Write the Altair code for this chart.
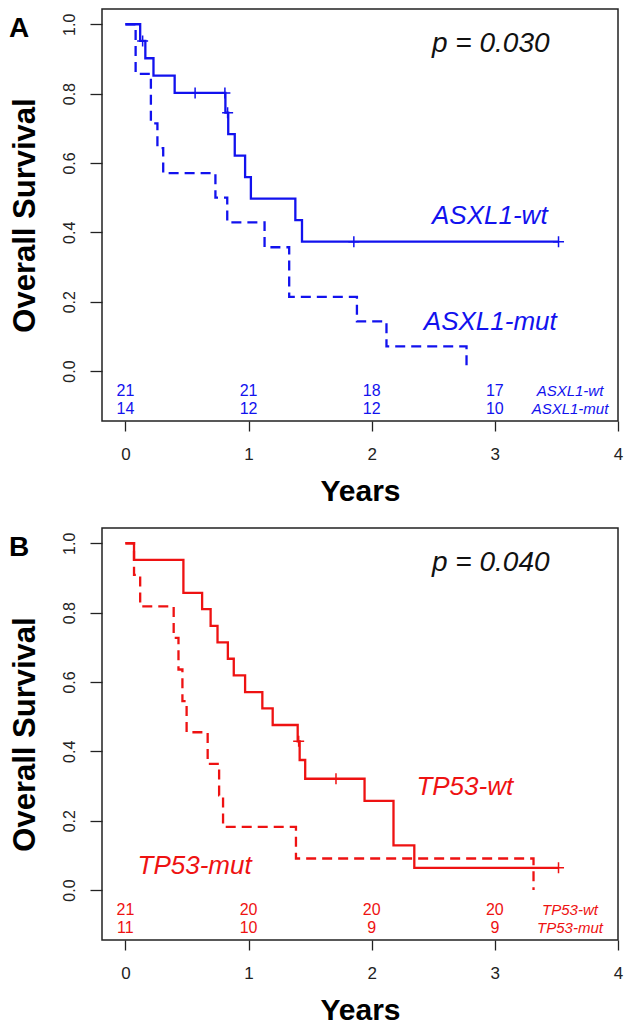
import altair as alt
import pandas as pd

FONT = "Liberation Sans"
BLUE = "#1212ee"
RED = "#ee1212"
INK = "#222222"

W = 516
H = 412
X_DOMAIN = [-0.19, 4.0]
Y_DOMAIN = [-0.144, 1.044]

# ---------------- Panel A : ASXL1 ----------------
a_wt_t = [0.0, 0.12, 0.162, 0.228, 0.40, 0.812, 0.835, 0.888, 0.972, 1.019, 1.38, 1.434, 3.517]
a_wt_s = [1.0, 0.952, 0.902, 0.852, 0.802, 0.745, 0.683, 0.621, 0.559, 0.497, 0.435, 0.373, 0.373]
a_mut_t = [0.0, 0.083, 0.207, 0.26, 0.307, 0.731, 0.827, 1.13, 1.33, 1.88, 2.12, 2.77]
a_mut_s = [1.0, 0.857, 0.714, 0.643, 0.571, 0.5, 0.429, 0.357, 0.214, 0.143, 0.071, 0.0]
a_cens_t = [0.14, 0.566, 0.808, 0.83, 1.855, 3.517]
a_cens_s = [0.952, 0.802, 0.802, 0.745, 0.373, 0.373]
a_lab_txt = ["ASXL1-wt", "ASXL1-mut"]
a_lab_t = [2.959, 2.963]
a_lab_s = [0.425, 0.117]
a_p = "p = 0.030"
a_risk_wt = ["21", "21", "18", "17"]
a_risk_mut = ["14", "12", "12", "10"]

# ---------------- Panel B : TP53 ----------------
b_wt_t = [0.0, 0.07, 0.471, 0.623, 0.692, 0.748, 0.832, 0.880, 0.972, 1.112, 1.196,
          1.399, 1.415, 1.46, 1.942, 2.177, 2.346, 3.517]
b_wt_s = [1.0, 0.952, 0.857, 0.810, 0.762, 0.714, 0.667, 0.619, 0.571, 0.524, 0.476,
          0.429, 0.375, 0.321, 0.257, 0.129, 0.064, 0.064]
b_mut_t = [0.0, 0.07, 0.12, 0.392, 0.431, 0.463, 0.497, 0.668, 0.761, 0.793, 1.385, 3.314]
b_mut_s = [1.0, 0.909, 0.818, 0.727, 0.636, 0.545, 0.455, 0.364, 0.273, 0.182, 0.091, 0.0]
b_cens_t = [1.407, 1.71, 3.517]
b_cens_s = [0.429, 0.321, 0.064]
b_lab_txt = ["TP53-wt", "TP53-mut"]
b_lab_t = [2.756, 0.562]
b_lab_s = [0.275, 0.047]
b_p = "p = 0.040"
b_risk_wt = ["21", "20", "20", "20"]
b_risk_mut = ["11", "10", "9", "9"]

# shared annotation positions
risk_times = [0, 1, 2, 3]
risk_rows = [-0.071, -0.124]
group_label_t = 3.61
p_pos = [2.967, 0.919]
x_ticks = [0, 1, 2, 3, 4]
y_ticks = [0.0, 0.2, 0.4, 0.6, 0.8, 1.0]


def panel(letter, color, wt_t, wt_s, mut_t, mut_s, cens_t, cens_s,
          lab_txt, lab_t, lab_s, ptxt, risk_wt, risk_mut, small_wt, small_mut):
    xs = alt.Scale(domain=X_DOMAIN, nice=False, zero=False)
    ys = alt.Scale(domain=Y_DOMAIN, nice=False, zero=False)

    x_axis = alt.Axis(
        values=x_ticks, format="d", title="Years", grid=False, domain=False,
        tickSize=10, tickColor=INK, tickWidth=1.3, labelFlush=False,
        labelFont=FONT, labelFontSize=17, labelColor=INK, labelPadding=28,
        labelBaseline="alphabetic",
        titleFont=FONT, titleFontSize=30, titleFontWeight="bold", titleColor="#000",
        titleY=79, titleBaseline="alphabetic",
    )
    y_axis = alt.Axis(
        values=y_ticks, format=".1f", title="Overall Survival", grid=False, domain=False,
        tickSize=12, tickColor=INK, tickWidth=1.3, labelFlush=False, labelOverlap=False,
        labelFont=FONT, labelFontSize=16, labelColor=INK, labelAngle=270,
        labelAlign="center", labelBaseline="alphabetic", labelPadding=16,
        titleFont=FONT, titleFontSize=31, titleFontWeight="bold", titleColor="#000",
        titleAngle=270, titleX=-68, titleY=H / 2, titleAlign="center",
        titleBaseline="alphabetic",
    )
    xe = alt.X("t:Q", scale=xs, axis=x_axis)
    ye = alt.Y("s:Q", scale=ys, axis=y_axis)

    wt_df = pd.DataFrame({"t": wt_t, "s": wt_s})
    mut_df = pd.DataFrame({"t": mut_t, "s": mut_s})
    cens_df = pd.DataFrame({"t": cens_t, "s": cens_s})
    lab_df = pd.DataFrame({"t": lab_t, "s": lab_s, "txt": lab_txt})
    p_df = pd.DataFrame({"t": [p_pos[0]], "s": [p_pos[1]], "txt": [ptxt]})
    risk_df = pd.DataFrame({
        "t": risk_times + risk_times,
        "s": [risk_rows[0]] * 4 + [risk_rows[1]] * 4,
        "txt": risk_wt + risk_mut,
    })
    small_df = pd.DataFrame({
        "t": [group_label_t, group_label_t],
        "s": risk_rows,
        "txt": [small_wt, small_mut],
    })
    letter_df = pd.DataFrame({"txt": [letter]})

    solid = alt.Chart(wt_df).mark_line(
        interpolate="step-after", color=color, strokeWidth=2.3
    ).encode(x=xe, y=ye)

    dashed = alt.Chart(mut_df).mark_line(
        interpolate="step-after", color=color, strokeWidth=2.3, strokeDash=[10, 6]
    ).encode(x=xe, y=ye)

    cens = alt.Chart(cens_df).mark_point(
        shape="M-1,0L1,0M0,-1L0,1", filled=False, size=121, strokeWidth=1.5,
        color=color, opacity=1
    ).encode(x=xe, y=ye)

    labels = alt.Chart(lab_df).mark_text(
        font=FONT, fontSize=26, fontStyle="italic", color=color,
        align="center", baseline="alphabetic"
    ).encode(x=xe, y=ye, text="txt:N")

    ptext = alt.Chart(p_df).mark_text(
        font=FONT, fontSize=28, fontStyle="italic", color="#111",
        align="center", baseline="alphabetic"
    ).encode(x=xe, y=ye, text="txt:N")

    risk = alt.Chart(risk_df).mark_text(
        font=FONT, fontSize=16, color=color, align="center", baseline="alphabetic"
    ).encode(x=xe, y=ye, text="txt:N")

    small = alt.Chart(small_df).mark_text(
        font=FONT, fontSize=15, fontStyle="italic", color=color,
        align="center", baseline="alphabetic"
    ).encode(x=xe, y=ye, text="txt:N")

    let = alt.Chart(letter_df).mark_text(
        font=FONT, fontSize=28, fontWeight="bold", color="#000",
        align="left", baseline="alphabetic"
    ).encode(x=alt.value(-93), y=alt.value(28), text="txt:N")

    return alt.layer(solid, dashed, cens, labels, ptext, risk, small, let).properties(
        width=W, height=H
    )


panel_a = panel("A", BLUE, a_wt_t, a_wt_s, a_mut_t, a_mut_s, a_cens_t, a_cens_s,
                a_lab_txt, a_lab_t, a_lab_s, a_p, a_risk_wt, a_risk_mut,
                "ASXL1-wt", "ASXL1-mut")
panel_b = panel("B", RED, b_wt_t, b_wt_s, b_mut_t, b_mut_s, b_cens_t, b_cens_s,
                b_lab_txt, b_lab_t, b_lab_s, b_p, b_risk_wt, b_risk_mut,
                "TP53-wt", "TP53-mut")

chart = alt.vconcat(panel_a, panel_b, spacing=20).properties(
    padding=0, background="white"
).configure_view(stroke=INK, strokeWidth=1.5)

chart.save("out.html", embed_options={"renderer": "svg", "actions": False})
